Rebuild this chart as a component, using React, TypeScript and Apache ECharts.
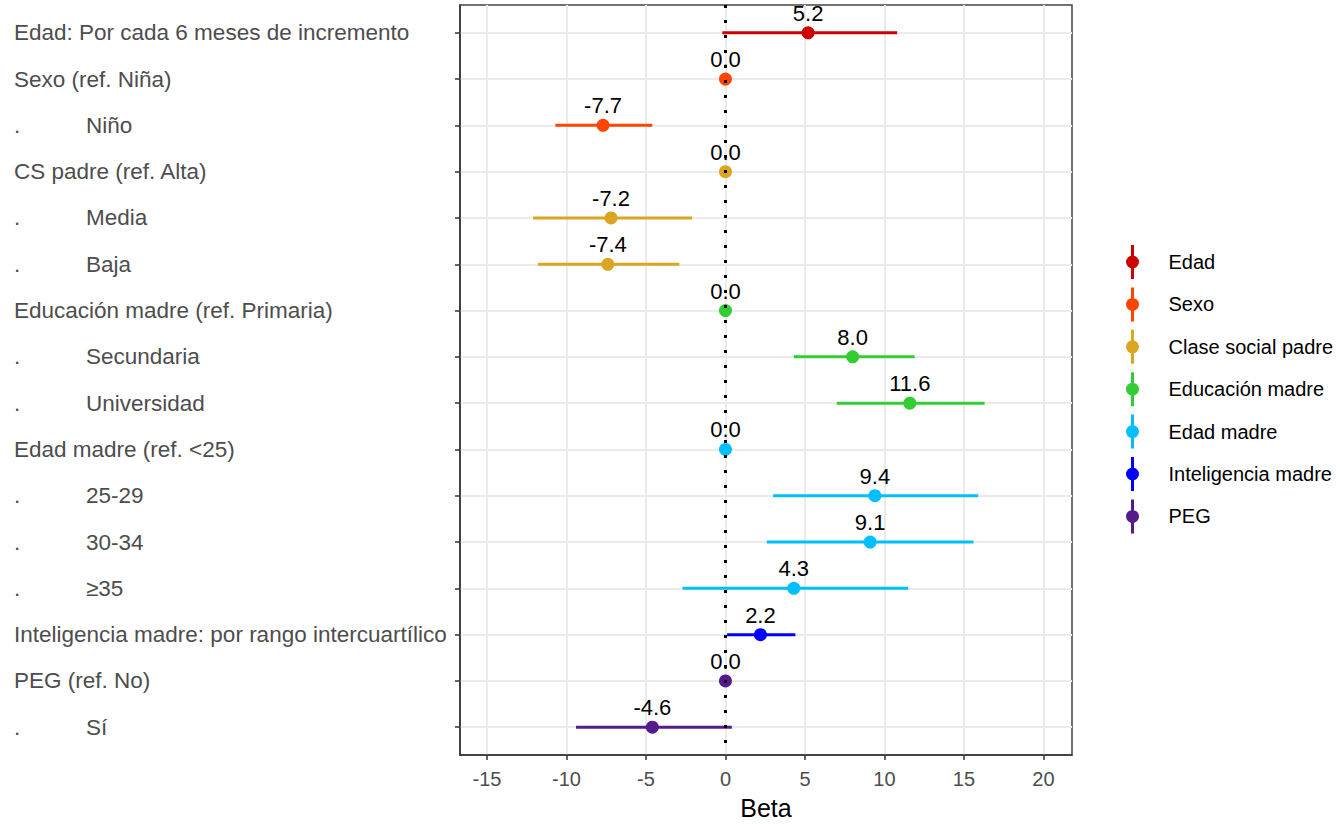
import React, { useEffect, useRef } from "react";
import * as echarts from "echarts";

// Row labels (top to bottom)
const rowHeads: string[] = [
  "Edad: Por cada 6 meses de incremento",
  "Sexo (ref. Niña)",
  "",
  "CS padre (ref. Alta)",
  "",
  "",
  "Educación madre (ref. Primaria)",
  "",
  "",
  "Edad madre (ref. <25)",
  "",
  "",
  "",
  "Inteligencia madre: por rango intercuartílico",
  "PEG (ref. No)",
  "",
];
const rowSubs: string[] = [
  "", "", "Niño", "", "Media", "Baja", "", "Secundaria", "Universidad", "", "25-29", "30-34", "≥35", "", "", "Sí",
];
const rowGroup: number[] = [0, 1, 1, 2, 2, 2, 3, 3, 3, 4, 4, 4, 4, 5, 6, 6];
const estimates: number[] = [5.2, 0, -7.7, 0, -7.2, -7.4, 0, 8.0, 11.6, 0, 9.4, 9.1, 4.3, 2.2, 0, -4.6];
const lowerCI: (number | null)[] = [-0.2, null, -10.7, null, -12.1, -11.8, null, 4.3, 7.0, null, 3.0, 2.6, -2.7, 0.1, null, -9.4];
const upperCI: (number | null)[] = [10.8, null, -4.6, null, -2.1, -2.9, null, 11.9, 16.3, null, 15.9, 15.6, 11.5, 4.4, null, 0.4];

const groups: string[] = [
  "Edad",
  "Sexo",
  "Clase social padre",
  "Educación madre",
  "Edad madre",
  "Inteligencia madre",
  "PEG",
];
const groupColors: string[] = ["#CD0000", "#FF4500", "#DAA520", "#32CD32", "#00BFFF", "#0000FF", "#551A8B"];

const xTicks: number[] = [-15, -10, -5, 0, 5, 10, 15, 20];
const rowIdx: number[] = rowHeads.map((_, i) => i);

const legendIcon =
  "path://M5.5,0 L8.5,0 L8.5,11 L5.5,11 Z M5.5,23 L8.5,23 L8.5,34 L5.5,34 Z M13.5,17 A6.5,6.5 0 1,1 0.5,17 A6.5,6.5 0 1,1 13.5,17 Z";

const FONT = "Liberation Sans, Arial, sans-serif";

export default function App() {
  const ref = useRef<HTMLDivElement>(null);
  useEffect(() => {
    if (!ref.current) return;
    const chart = echarts.init(ref.current, undefined, { renderer: "svg" });

    const series: any[] = [];
    groups.forEach((g, gi) => {
      const ciData: any[] = [];
      const ptData: any[] = [];
      rowIdx.forEach((r) => {
        if (rowGroup[r] !== gi) return;
        ptData.push([estimates[r], r]);
        if (lowerCI[r] !== null && upperCI[r] !== null) {
          ciData.push([r, lowerCI[r], upperCI[r]]);
        }
      });
      series.push({
        type: "custom",
        name: g,
        color: groupColors[gi],
        encode: { x: [1, 2], y: 0 },
        data: ciData,
        z: 2,
        renderItem: (params: any, api: any) => {
          const y = api.value(0);
          const p1 = api.coord([api.value(1), y]);
          const p2 = api.coord([api.value(2), y]);
          return {
            type: "line",
            shape: { x1: p1[0], y1: p1[1], x2: p2[0], y2: p2[1] },
            style: { stroke: groupColors[gi], lineWidth: 3 },
          };
        },
      });
      series.push({
        type: "scatter",
        name: g,
        color: groupColors[gi],
        symbol: "circle",
        symbolSize: 13,
        itemStyle: { color: groupColors[gi], opacity: 1 },
        data: ptData,
        z: 3,
        label: {
          show: true,
          position: "top",
          distance: 2,
          color: "#000",
          fontSize: 22,
          fontFamily: FONT,
          formatter: (p: any) => Number(p.value[0]).toFixed(1),
        },
      });
    });

    series.push({
      type: "line",
      name: "zero",
      data: [],
      silent: true,
      z: 10,
      markLine: {
        silent: true,
        symbol: ["none", "none"],
        label: { show: false },
        lineStyle: { color: "#000", type: [3, 12], width: 3, cap: "butt" },
        data: [{ xAxis: 0 }],
        z: 10,
      },
    });

    chart.setOption({
      animation: false,
      textStyle: { fontFamily: FONT },
      grid: {
        left: 460,
        right: 267,
        top: 5,
        bottom: 69,
        containLabel: false,
        outerBoundsMode: "none",
        show: true,
        borderColor: "#444",
        borderWidth: 1.5,
        backgroundColor: "transparent",
      },
      legend: {
        orient: "vertical",
        left: 1126,
        top: 245,
        padding: 0,
        itemWidth: 62,
        itemHeight: 34,
        itemGap: 8.4,
        symbolKeepAspect: true,
        data: groups.map((g) => ({ name: g, icon: legendIcon })),
        textStyle: { fontSize: 20, color: "#000", fontFamily: FONT },
        selectedMode: false,
      },
      xAxis: {
        type: "value",
        min: -16.7,
        max: 21.8,
        name: "Beta",
        nameLocation: "middle",
        nameGap: 40,
        nameTextStyle: { fontSize: 25, color: "#000" },
        axisLine: { show: true, onZero: false, lineStyle: { color: "#333", width: 1.5 } },
        axisTick: { show: true, length: 5, customValues: xTicks, lineStyle: { color: "#333", width: 1.5 } },
        axisLabel: {
          customValues: xTicks,
          fontSize: 20,
          color: "#4D4D4D",
          margin: 14,
          formatter: (v: number) => String(v),
        },
        splitLine: { show: true, lineStyle: { color: "#EBEBEB", width: 2 } },
      },
      yAxis: {
        type: "value",
        inverse: true,
        min: -0.6,
        max: 15.6,
        axisLine: { show: true, onZero: false, lineStyle: { color: "#333", width: 1.5 } },
        axisTick: { show: true, length: 5, customValues: rowIdx, lineStyle: { color: "#333", width: 1.5 } },
        axisLabel: {
          customValues: rowIdx,
          align: "left",
          margin: 446,
          fontSize: 22.5,
          color: "#4D4D4D",
          formatter: (v: number) => {
            const i = Math.round(v);
            if (rowSubs[i]) return "{d|.}{t|" + rowSubs[i] + "}";
            return rowHeads[i] ?? "";
          },
          rich: {
            d: { width: 72, fontSize: 22.5, color: "#4D4D4D" },
            t: { fontSize: 22.5, color: "#4D4D4D" },
          },
        },
        splitLine: { show: true, lineStyle: { color: "#EBEBEB", width: 2 } },
      },
      series,
    });

    return () => chart.dispose();
  }, []);

  return (
    <div
      ref={ref}
      style={{ position: "fixed", left: 0, top: 0, width: 1339, height: 824, background: "#fff" }}
    />
  );
}
